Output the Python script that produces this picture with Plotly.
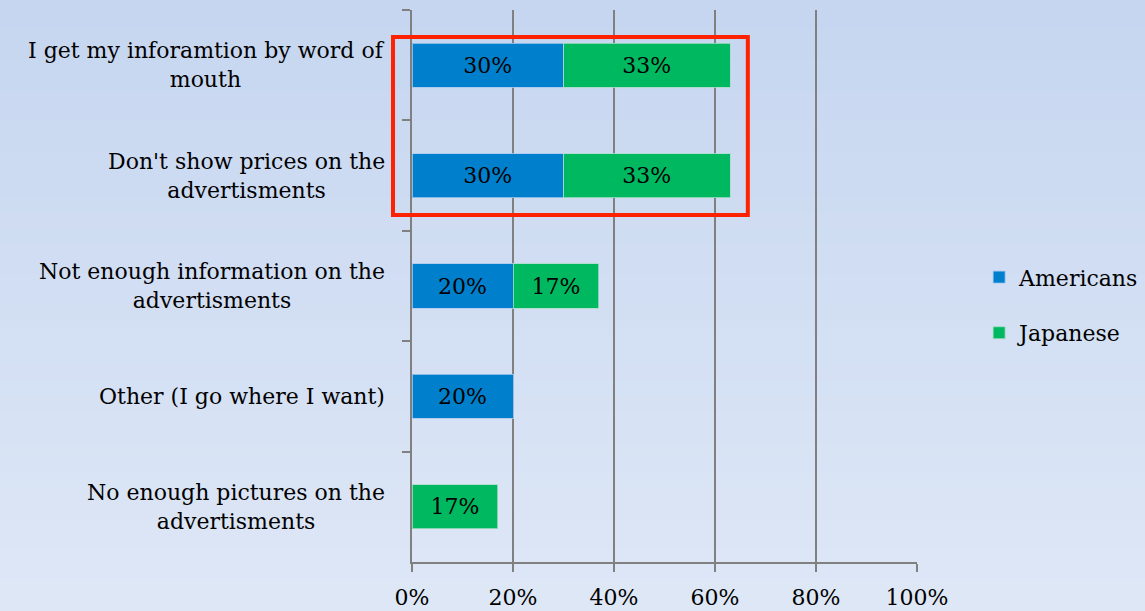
import plotly.graph_objects as go

categories = [
    "I get my inforamtion by word of<br>mouth",
    "Don't show prices on the<br>advertisments",
    "Not enough information on the<br>advertisments",
    "Other (I go where I want)",
    "No enough pictures on the<br>advertisments",
]
americans = [0.30, 0.30, 0.20, 0.20, None]
japanese = [0.33, 0.33, 0.17, None, 0.17]
x_ticks = [0, 0.2, 0.4, 0.6, 0.8, 1.0]
x_tick_labels = ["0%", "20%", "40%", "60%", "80%", "100%"]

FONT = "DejaVu Serif"
FS = 22

fig = go.Figure()
fig.add_trace(go.Bar(
    y=categories, x=americans, name="Americans", orientation="h",
    marker=dict(color="#0080cc", line=dict(color="rgba(170,200,240,0.8)", width=1)),
    texttemplate="%{x:.0%}", textposition="inside", insidetextanchor="middle",
    textfont=dict(family=FONT, size=FS, color="black"), constraintext="none",
    legendgroup="a", hoverinfo="skip",
))
fig.add_trace(go.Bar(
    y=categories, x=japanese, name="Japanese", orientation="h",
    marker=dict(color="#00b860", line=dict(color="rgba(170,220,200,0.8)", width=1)),
    texttemplate="%{x:.0%}", textposition="inside", insidetextanchor="middle",
    textfont=dict(family=FONT, size=FS, color="black"), constraintext="none",
    legendgroup="j", hoverinfo="skip",
))

# gradient background
shapes = []
n = 40
top = (198, 214, 240)
bot = (222, 231, 246)
y_lo, y_hi = -49 / 552, 1 + 10 / 552
for i in range(n):
    t = i / (n - 1)
    c = tuple(round(top[k] + (bot[k] - top[k]) * t) for k in range(3))
    y1 = y_hi - (y_hi - y_lo) * i / n
    y0 = y_hi - (y_hi - y_lo) * (i + 1) / n
    shapes.append(dict(type="rect", xref="paper", yref="paper",
                       x0=-0.82, x1=1.46, y0=y0 - 0.002, y1=y1 + 0.002,
                       fillcolor="rgb(%d,%d,%d)" % c, line=dict(width=0),
                       layer="below"))
# red highlight box
shapes.append(dict(type="rect", xref="paper", yref="paper",
                   x0=-0.0376, x1=0.665, y0=0.6286, y1=0.951,
                   line=dict(color="#ff2200", width=4), layer="above"))

annotations = []
for c in categories:
    annotations.append(dict(text=c, xref="paper", yref="y", x=-0.049, y=c,
                            xanchor="right", yanchor="middle", align="center",
                            showarrow=False,
                            font=dict(family=FONT, size=FS, color="black")))

fig.update_layout(
    barmode="stack",
    bargap=0.6,
    width=1145, height=611,
    margin=dict(l=412, r=228, t=10, b=49, autoexpand=False),
    paper_bgcolor="#d2def2",
    plot_bgcolor="rgba(0,0,0,0)",
    font=dict(family=FONT, size=FS, color="black"),
    shapes=shapes,
    annotations=annotations,
    legend=dict(x=1.123, y=0.465, xanchor="left", yanchor="middle",
                font=dict(family=FONT, size=FS, color="black"),
                traceorder="grouped", tracegroupgap=24,
                bgcolor="rgba(0,0,0,0)"),
    xaxis=dict(range=[0, 1], tickvals=x_ticks, ticktext=x_tick_labels,
               showgrid=True, gridcolor="#808080", gridwidth=2,
               showline=True, linecolor="#808080", linewidth=2,
               ticks="outside", ticklen=8, tickcolor="#808080", tickwidth=2,
               zeroline=False, ticklabelstandoff=7, automargin=False,
               tickfont=dict(family=FONT, size=FS, color="black")),
    yaxis=dict(categoryorder="array", categoryarray=categories,
               autorange="reversed", showticklabels=False, automargin=False,
               showgrid=False, showline=True, linecolor="#808080", linewidth=2,
               ticks="outside", ticklen=8, tickcolor="#808080", tickwidth=2,
               tickson="boundaries", zeroline=False),
)

fig.write_html("out.html", config={"displayModeBar": False},
               post_script="document.body.style.margin='0';document.body.style.overflow='hidden';")
